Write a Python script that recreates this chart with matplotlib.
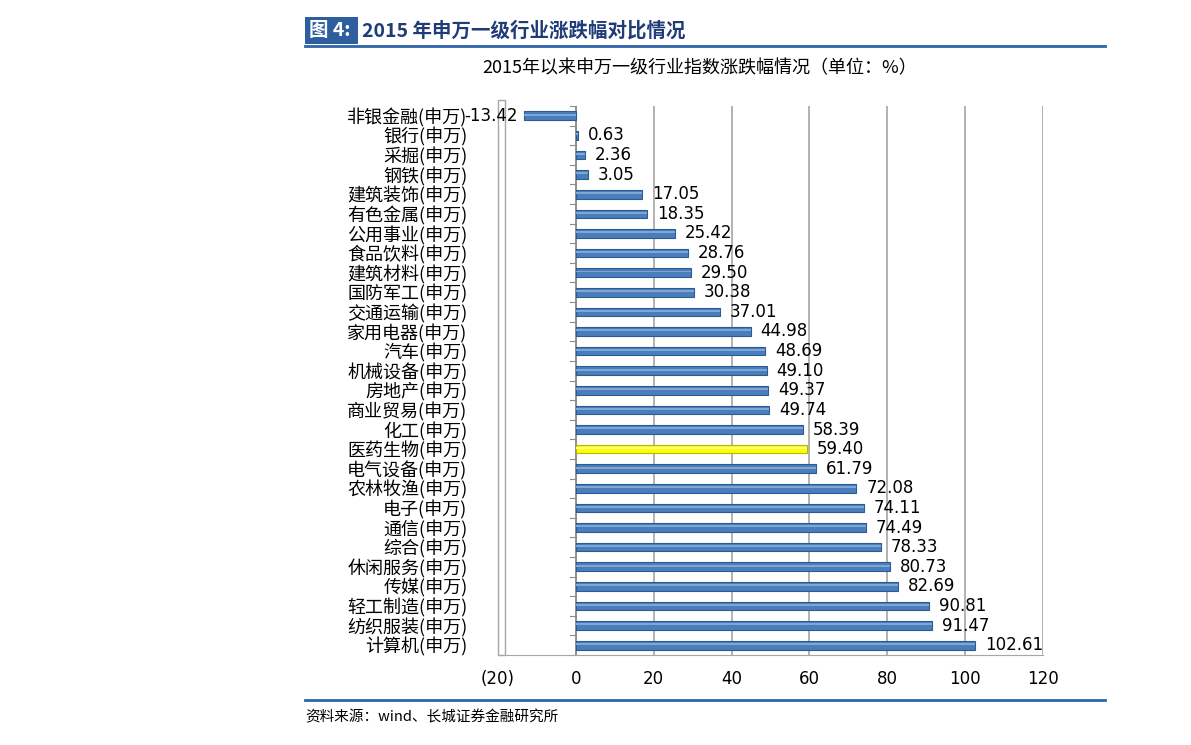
import matplotlib
matplotlib.use("Agg")
import matplotlib.pyplot as plt
from matplotlib.patches import Rectangle
from matplotlib.lines import Line2D

plt.rcParams['font.family'] = ['Noto Sans CJK SC', 'DejaVu Sans']

categories = ["非银金融(申万)", "银行(申万)", "采掘(申万)", "钢铁(申万)", "建筑装饰(申万)",
              "有色金属(申万)", "公用事业(申万)", "食品饮料(申万)", "建筑材料(申万)", "国防军工(申万)",
              "交通运输(申万)", "家用电器(申万)", "汽车(申万)", "机械设备(申万)", "房地产(申万)",
              "商业贸易(申万)", "化工(申万)", "医药生物(申万)", "电气设备(申万)", "农林牧渔(申万)",
              "电子(申万)", "通信(申万)", "综合(申万)", "休闲服务(申万)", "传媒(申万)",
              "轻工制造(申万)", "纺织服装(申万)", "计算机(申万)"]
values = [-13.42, 0.63, 2.36, 3.05, 17.05, 18.35, 25.42, 28.76, 29.50, 30.38,
          37.01, 44.98, 48.69, 49.10, 49.37, 49.74, 58.39, 59.40, 61.79, 72.08,
          74.11, 74.49, 78.33, 80.73, 82.69, 90.81, 91.47, 102.61]
highlight = "医药生物(申万)"
xticks = [-20, 0, 20, 40, 60, 80, 100, 120]
xticklabels = ["(20)", "0", "20", "40", "60", "80", "100", "120"]

W, H = 1191, 745
fig = plt.figure(figsize=(W / 100, H / 100), dpi=100)

def fx(px):
    return px / W

def fy(py):
    return 1 - py / H

ax = fig.add_axes([fx(498), fy(655), fx(1043) - fx(498), fy(106) - fy(655)])
ax.set_xlim(-20, 120)
n = len(categories)
ax.set_ylim(n - 0.5, -0.5)

ypos = list(range(n))
colors = ['#FFFF00' if c == highlight else '#4A7EBB' for c in categories]
edges = ['#B8B800' if c == highlight else '#2C5A93' for c in categories]
ax.barh(ypos, values, height=0.44, color=colors, edgecolor=edges, linewidth=0.8, zorder=3)
hl = ['#FFFF99' if c == highlight else '#7FA6D6' for c in categories]
ax.barh([y - 0.06 for y in ypos], values, height=0.1, color=hl, linewidth=0, zorder=4)

for y, v in zip(ypos, values):
    if v >= 0:
        ax.annotate(f"{v:.2f}", xy=(v, y), xytext=(7, 0), textcoords='offset points',
                    ha='left', va='center', fontsize=12, family='DejaVu Sans', zorder=5)
    else:
        ax.annotate(f"{v:.2f}", xy=(v, y), xytext=(-4, 0), textcoords='offset points',
                    ha='right', va='center', fontsize=12, family='DejaVu Sans', zorder=5)

ax.set_xticks(xticks)
ax.set_xticklabels(xticklabels, fontsize=12, family='DejaVu Sans')
ax.tick_params(axis='x', length=0, pad=11)
ax.set_yticks(ypos)
ax.set_yticklabels(categories, fontsize=13)
ax.tick_params(axis='y', length=0, pad=22)

for t in xticks:
    ax.axvline(t, color='#A6A6A6', lw=1.2, zorder=1)
ax.axvline(0, color='#8C8C8C', lw=1.2, zorder=2)
for s in ax.spines.values():
    s.set_visible(False)
ax.spines['bottom'].set_visible(True)
ax.spines['bottom'].set_color('#A6A6A6')

for k in range(n + 1):
    ax.plot([-1.6, 0], [k - 0.5, k - 0.5], color='#8C8C8C', lw=0.8, zorder=2, clip_on=False)

ax.add_patch(Rectangle((-20, -0.8), 1.8, n + 0.3, facecolor='white', edgecolor='#A6A6A6',
                       lw=1.0, zorder=2, clip_on=False))

fig.patches.append(Rectangle((fx(305), fy(44)), fx(358) - fx(305), fy(17) - fy(44),
                             transform=fig.transFigure, facecolor='#2E5E9E', edgecolor='none'))
fig.text(fx(309), fy(31), "图 4:", color='white', fontsize=14, fontweight='bold', va='center', ha='left')
fig.text(fx(362), fy(31), "2015 年申万一级行业涨跌幅对比情况", color='#1F3C78', fontsize=14,
         fontweight='bold', va='center', ha='left')
fig.lines.append(Line2D([fx(305), fx(1105)], [fy(46), fy(46)], transform=fig.transFigure,
                        color='#2E64A8', lw=2))
fig.text(fx(700), fy(68), "2015年以来申万一级行业指数涨跌幅情况（单位：%）", fontsize=13,
         ha='center', va='center')

fig.lines.append(Line2D([fx(305), fx(1105)], [fy(700), fy(700)], transform=fig.transFigure,
                        color='#2E64A8', lw=2))
fig.text(fx(305), fy(717), "资料来源：wind、长城证券金融研究所", fontsize=10.5, style='italic',
         ha='left', va='center')

fig.savefig("out.png", dpi=100)
